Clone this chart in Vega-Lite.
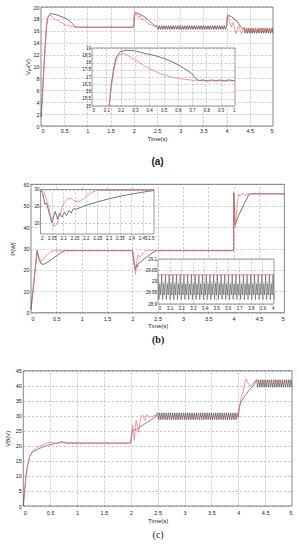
{
"$schema": "https://vega.github.io/schema/vega-lite/v6.json",
"width": 299, "height": 550, "autosize": {"type": "none"}, "padding": 0,
"config": {"view": {"stroke": null},
 "axis": {"labelFont": "Liberation Sans", "titleFont": "Liberation Sans", "labelFontSize": 5.5, "titleFontSize": 6, "titleFontWeight": "normal", "labelColor": "#222", "titleColor": "#222", "gridColor": "#8c8c8c", "gridDash": [2, 2], "gridWidth": 0.5, "domain": false, "ticks": false, "tickSize": 0, "labelPadding": 2}},
"resolve": {"scale": {"x": "independent", "y": "independent"}, "axis": {"x": "independent", "y": "independent"}},
"datasets": {
"frame_a": [{"x0": 0, "x1": 5, "y0": 0, "y1": 20}],
"frame_ai": [{"x0": 0, "x1": 1, "y0": 15, "y1": 19}],
"frame_b": [{"x0": 0, "x1": 5, "y0": 0, "y1": 60}],
"frame_b1": [{"x0": 2, "x1": 2.5, "y0": 16.8, "y1": 30}],
"frame_b2": [{"x0": 3, "x1": 4, "y0": 28.9, "y1": 29.1}],
"frame_c": [{"x0": 0, "x1": 5, "y0": 0, "y1": 45}],
"a_k": [{"t":0,"v":1.5},{"t":0.03,"v":5},{"t":0.06,"v":9.5},{"t":0.09,"v":13.5},{"t":0.12,"v":16.8},{"t":0.15,"v":18.3},{"t":0.2,"v":18.85},{"t":0.25,"v":18.85},{"t":0.35,"v":18.65},{"t":0.45,"v":18.35},{"t":0.55,"v":18},{"t":0.62,"v":17.6},{"t":0.68,"v":17.2},{"t":0.73,"v":16.7},{"t":0.8,"v":16.6},{"t":2,"v":16.6},{"t":2.01,"v":18.5},{"t":2.05,"v":19},{"t":2.1,"v":18.9},{"t":2.2,"v":18.5},{"t":2.3,"v":17.9},{"t":2.4,"v":17.2},{"t":2.47,"v":16.7},
{"t":2.5,"v":16.85},{"t":2.525,"v":16.25},{"t":2.55,"v":16.85},{"t":2.575,"v":16.25},{"t":2.6,"v":16.85},{"t":2.625,"v":16.25},{"t":2.65,"v":16.85},{"t":2.675,"v":16.25},{"t":2.7,"v":16.85},{"t":2.725,"v":16.25},{"t":2.75,"v":16.85},{"t":2.775,"v":16.25},{"t":2.8,"v":16.85},{"t":2.825,"v":16.25},{"t":2.85,"v":16.85},{"t":2.875,"v":16.25},{"t":2.9,"v":16.85},{"t":2.925,"v":16.25},{"t":2.95,"v":16.85},{"t":2.975,"v":16.25},{"t":3,"v":16.85},{"t":3.025,"v":16.25},{"t":3.05,"v":16.85},{"t":3.075,"v":16.25},{"t":3.1,"v":16.85},{"t":3.125,"v":16.25},{"t":3.15,"v":16.85},{"t":3.175,"v":16.25},{"t":3.2,"v":16.85},{"t":3.225,"v":16.25},{"t":3.25,"v":16.85},{"t":3.275,"v":16.25},{"t":3.3,"v":16.85},{"t":3.325,"v":16.25},{"t":3.35,"v":16.85},{"t":3.375,"v":16.25},{"t":3.4,"v":16.85},{"t":3.425,"v":16.25},{"t":3.45,"v":16.85},{"t":3.475,"v":16.25},{"t":3.5,"v":16.85},{"t":3.525,"v":16.25},{"t":3.55,"v":16.85},{"t":3.575,"v":16.25},{"t":3.6,"v":16.85},{"t":3.625,"v":16.25},{"t":3.65,"v":16.85},{"t":3.675,"v":16.25},{"t":3.7,"v":16.85},{"t":3.725,"v":16.25},{"t":3.75,"v":16.85},{"t":3.775,"v":16.25},{"t":3.8,"v":16.85},{"t":3.825,"v":16.25},{"t":3.85,"v":16.85},{"t":3.875,"v":16.25},{"t":3.9,"v":16.85},{"t":3.925,"v":16.25},{"t":3.95,"v":16.85},{"t":3.975,"v":16.25},{"t":4,"v":16.85},
{"t":4.02,"v":18.6},{"t":4.1,"v":18.4},{"t":4.2,"v":17.8},{"t":4.3,"v":16.8},{"t":4.35,"v":16.3},
{"t":4.375,"v":16.4},{"t":4.4,"v":15.6},{"t":4.425,"v":16.4},{"t":4.45,"v":15.6},{"t":4.475,"v":16.4},{"t":4.5,"v":15.6},{"t":4.525,"v":16.4},{"t":4.55,"v":15.6},{"t":4.575,"v":16.4},{"t":4.6,"v":15.6},{"t":4.625,"v":16.4},{"t":4.65,"v":15.6},{"t":4.675,"v":16.4},{"t":4.7,"v":15.6},{"t":4.725,"v":16.4},{"t":4.75,"v":15.6},{"t":4.775,"v":16.4},{"t":4.8,"v":15.6},{"t":4.825,"v":16.4},{"t":4.85,"v":15.6},{"t":4.875,"v":16.4},{"t":4.9,"v":15.6},{"t":4.925,"v":16.4},{"t":4.95,"v":15.6},{"t":4.975,"v":16.4},{"t":5,"v":15.6}],
"a_r": [{"t":0,"v":1.5},{"t":0.03,"v":5},{"t":0.06,"v":9.5},{"t":0.09,"v":13.5},{"t":0.12,"v":17},{"t":0.15,"v":18.4},{"t":0.18,"v":18.7},{"t":0.22,"v":18.5},{"t":0.3,"v":18},{"t":0.4,"v":17.5},{"t":0.5,"v":17.1},{"t":0.6,"v":16.85},{"t":0.7,"v":16.65},{"t":0.75,"v":16.6},{"t":2,"v":16.6},{"t":2.015,"v":19.3},{"t":2.05,"v":19},{"t":2.1,"v":18.2},{"t":2.13,"v":18.6},{"t":2.17,"v":17.8},{"t":2.22,"v":18},{"t":2.3,"v":17.2},{"t":2.4,"v":16.9},{"t":2.5,"v":16.65},
{"t":2.55,"v":16.45},{"t":2.6,"v":16.75},{"t":2.65,"v":16.45},{"t":2.7,"v":16.75},{"t":2.75,"v":16.45},{"t":2.8,"v":16.75},{"t":2.85,"v":16.45},{"t":2.9,"v":16.75},{"t":2.95,"v":16.45},{"t":3,"v":16.75},{"t":3.05,"v":16.45},{"t":3.1,"v":16.75},{"t":3.15,"v":16.45},{"t":3.2,"v":16.75},{"t":3.25,"v":16.45},{"t":3.3,"v":16.75},{"t":3.35,"v":16.45},{"t":3.4,"v":16.75},{"t":3.45,"v":16.45},{"t":3.5,"v":16.75},{"t":3.55,"v":16.45},{"t":3.6,"v":16.75},{"t":3.65,"v":16.45},{"t":3.7,"v":16.75},{"t":3.75,"v":16.45},{"t":3.8,"v":16.75},{"t":3.85,"v":16.45},{"t":3.9,"v":16.75},{"t":3.95,"v":16.45},{"t":4,"v":16.75},
{"t":4.02,"v":18.7},{"t":4.06,"v":17.8},{"t":4.1,"v":16.6},{"t":4.14,"v":17.4},{"t":4.2,"v":15.5},{"t":4.26,"v":16.9},{"t":4.32,"v":15.5},{"t":4.38,"v":16.6},
{"t":4.41,"v":15.8},{"t":4.44,"v":16.5},{"t":4.47,"v":15.8},{"t":4.5,"v":16.5},{"t":4.53,"v":15.8},{"t":4.56,"v":16.5},{"t":4.59,"v":15.8},{"t":4.62,"v":16.5},{"t":4.65,"v":15.8},{"t":4.68,"v":16.5},{"t":4.71,"v":15.8},{"t":4.74,"v":16.5},{"t":4.77,"v":15.8},{"t":4.8,"v":16.5},{"t":4.83,"v":15.8},{"t":4.86,"v":16.5},{"t":4.89,"v":15.8},{"t":4.92,"v":16.5},{"t":4.95,"v":15.8},{"t":4.98,"v":16.5},{"t":5,"v":16.1}],
"ai_k": [{"t":0.12,"v":15},{"t":0.135,"v":16.5},{"t":0.15,"v":17.5},{"t":0.17,"v":18.4},{"t":0.2,"v":18.75},{"t":0.24,"v":18.85},{"t":0.3,"v":18.8},{"t":0.38,"v":18.6},{"t":0.45,"v":18.45},{"t":0.51,"v":18.25},{"t":0.56,"v":18.05},{"t":0.61,"v":17.8},{"t":0.66,"v":17.5},{"t":0.7,"v":17.2},{"t":0.73,"v":16.85},{"t":0.75,"v":16.75},{"t":0.78,"v":16.79},{"t":0.81,"v":16.72},{"t":0.84,"v":16.79},{"t":0.87,"v":16.72},{"t":0.9,"v":16.79},{"t":0.93,"v":16.72},{"t":0.96,"v":16.79},{"t":1,"v":16.74}],
"ai_r": [{"t":0.12,"v":15},{"t":0.135,"v":16.3},{"t":0.15,"v":17.3},{"t":0.17,"v":18.2},{"t":0.19,"v":18.5},{"t":0.215,"v":18.6},{"t":0.24,"v":18.55},{"t":0.28,"v":18.3},{"t":0.33,"v":18},{"t":0.38,"v":17.7},{"t":0.43,"v":17.45},{"t":0.47,"v":17.25},{"t":0.52,"v":17.1},{"t":0.56,"v":16.98},{"t":0.6,"v":16.9},{"t":0.65,"v":16.84},{"t":0.7,"v":16.78},{"t":0.75,"v":16.76},{"t":0.765,"v":16.8},{"t":0.795,"v":16.72},{"t":0.825,"v":16.8},{"t":0.855,"v":16.72},{"t":0.885,"v":16.8},{"t":0.915,"v":16.72},{"t":0.945,"v":16.8},{"t":0.975,"v":16.72},{"t":1,"v":16.77}],
"b_k": [{"t":0,"v":1.5},{"t":0.06,"v":15},{"t":0.12,"v":29},{"t":0.15,"v":25.5},{"t":0.2,"v":22.8},{"t":0.25,"v":22.6},{"t":0.3,"v":23.2},{"t":0.4,"v":24.8},{"t":0.5,"v":26.5},{"t":0.6,"v":28.2},{"t":0.68,"v":29},{"t":2,"v":29},{"t":2.02,"v":26},{"t":2.04,"v":22},{"t":2.06,"v":20},{"t":2.08,"v":22.5},{"t":2.1,"v":21.5},{"t":2.12,"v":23},{"t":2.15,"v":23.5},{"t":2.2,"v":24.5},{"t":2.3,"v":26.3},{"t":2.4,"v":28},{"t":2.47,"v":29},{"t":4,"v":29},{"t":4.001,"v":56},{"t":4.03,"v":41},{"t":4.1,"v":45.5},{"t":4.2,"v":50.5},{"t":4.3,"v":55.3},{"t":4.35,"v":55.6},{"t":5,"v":55.5}],
"b_r": [{"t":0,"v":1.5},{"t":0.06,"v":15},{"t":0.12,"v":29},{"t":0.16,"v":26},{"t":0.2,"v":24},{"t":0.25,"v":25},{"t":0.3,"v":26.8},{"t":0.38,"v":28.3},{"t":0.45,"v":29},{"t":2,"v":29},{"t":2.02,"v":28},{"t":2.04,"v":23.5},{"t":2.06,"v":18},{"t":2.08,"v":21.5},{"t":2.1,"v":25.5},{"t":2.12,"v":27},{"t":2.15,"v":26},{"t":2.18,"v":26.5},{"t":2.22,"v":28},{"t":2.26,"v":29},{"t":4,"v":29},{"t":4.001,"v":55},{"t":4.03,"v":40},{"t":4.07,"v":50},{"t":4.1,"v":55.5},{"t":4.13,"v":54.5},{"t":4.17,"v":55.8},{"t":4.22,"v":55},{"t":4.3,"v":55.5},{"t":5,"v":55.5}],
"b1_k": [{"t":2,"v":29.7},{"t":2.01,"v":28.8},{"t":2.015,"v":27},{"t":2.02,"v":25.6},{"t":2.025,"v":26},{"t":2.03,"v":25.2},{"t":2.04,"v":22.5},{"t":2.05,"v":20.2},{"t":2.06,"v":22.5},{"t":2.065,"v":23.5},{"t":2.075,"v":21.2},{"t":2.085,"v":23},{"t":2.095,"v":21.8},{"t":2.105,"v":23.3},{"t":2.115,"v":22.3},{"t":2.125,"v":23.8},{"t":2.135,"v":23},{"t":2.145,"v":24.3},{"t":2.16,"v":24.2},{"t":2.18,"v":24.8},{"t":2.2,"v":25.3},{"t":2.25,"v":26.3},{"t":2.3,"v":27.2},{"t":2.35,"v":28},{"t":2.4,"v":28.6},{"t":2.45,"v":29.2},{"t":2.5,"v":29.7}],
"b1_r": [{"t":2,"v":29.8},{"t":2.015,"v":29.4},{"t":2.025,"v":27.5},{"t":2.035,"v":25},{"t":2.045,"v":22},{"t":2.06,"v":19},{"t":2.07,"v":19.5},{"t":2.085,"v":22.5},{"t":2.1,"v":25.5},{"t":2.115,"v":27},{"t":2.13,"v":27.5},{"t":2.145,"v":26.8},{"t":2.16,"v":26.4},{"t":2.175,"v":26.6},{"t":2.19,"v":27.3},{"t":2.21,"v":28.4},{"t":2.23,"v":29.3},{"t":2.25,"v":29.7},{"t":2.5,"v":29.7}],
"b2_r": [{"t":3,"v":29.03},{"t":4,"v":29.03}],
"b2_k": [{"t":3,"v":29.03},{"t":3.008,"v":28.92},{"t":3.016,"v":28.99},{"t":3.024,"v":28.94},{"t":3.032,"v":29.03},{"t":3.04,"v":28.92},{"t":3.048,"v":28.99},{"t":3.056,"v":28.94},{"t":3.064,"v":29.03},{"t":3.072,"v":28.92},{"t":3.08,"v":28.99},{"t":3.088,"v":28.94},{"t":3.096,"v":29.03},{"t":3.104,"v":28.92},{"t":3.112,"v":28.99},{"t":3.12,"v":28.94},{"t":3.128,"v":29.03},{"t":3.136,"v":28.92},{"t":3.144,"v":28.99},{"t":3.152,"v":28.94},{"t":3.16,"v":29.03},{"t":3.168,"v":28.92},{"t":3.176,"v":28.99},{"t":3.184,"v":28.94},{"t":3.192,"v":29.03},{"t":3.2,"v":28.92},{"t":3.208,"v":28.99},{"t":3.216,"v":28.94},{"t":3.224,"v":29.03},{"t":3.232,"v":28.92},{"t":3.24,"v":28.99},{"t":3.248,"v":28.94},{"t":3.256,"v":29.03},{"t":3.264,"v":28.92},{"t":3.272,"v":28.99},{"t":3.28,"v":28.94},{"t":3.288,"v":29.03},{"t":3.296,"v":28.92},{"t":3.304,"v":28.99},{"t":3.312,"v":28.94},{"t":3.32,"v":29.03},{"t":3.328,"v":28.92},{"t":3.336,"v":28.99},{"t":3.344,"v":28.94},{"t":3.352,"v":29.03},{"t":3.36,"v":28.92},{"t":3.368,"v":28.99},{"t":3.376,"v":28.94},{"t":3.384,"v":29.03},{"t":3.392,"v":28.92},{"t":3.4,"v":28.99},{"t":3.408,"v":28.94},{"t":3.416,"v":29.03},{"t":3.424,"v":28.92},{"t":3.432,"v":28.99},{"t":3.44,"v":28.94},{"t":3.448,"v":29.03},{"t":3.456,"v":28.92},{"t":3.464,"v":28.99},{"t":3.472,"v":28.94},{"t":3.48,"v":29.03},{"t":3.488,"v":28.92},{"t":3.496,"v":28.99},{"t":3.504,"v":28.94},{"t":3.512,"v":29.03},{"t":3.52,"v":28.92},{"t":3.528,"v":28.99},{"t":3.536,"v":28.94},{"t":3.544,"v":29.03},{"t":3.552,"v":28.92},{"t":3.56,"v":28.99},{"t":3.568,"v":28.94},{"t":3.576,"v":29.03},{"t":3.584,"v":28.92},{"t":3.592,"v":28.99},{"t":3.6,"v":28.94},{"t":3.608,"v":29.03},{"t":3.616,"v":28.92},{"t":3.624,"v":28.99},{"t":3.632,"v":28.94},{"t":3.64,"v":29.03},{"t":3.648,"v":28.92},{"t":3.656,"v":28.99},{"t":3.664,"v":28.94},{"t":3.672,"v":29.03},{"t":3.68,"v":28.92},{"t":3.688,"v":28.99},{"t":3.696,"v":28.94},{"t":3.704,"v":29.03},{"t":3.712,"v":28.92},{"t":3.72,"v":28.99},{"t":3.728,"v":28.94},{"t":3.736,"v":29.03},{"t":3.744,"v":28.92},{"t":3.752,"v":28.99},{"t":3.76,"v":28.94},{"t":3.768,"v":29.03},{"t":3.776,"v":28.92},{"t":3.784,"v":28.99},{"t":3.792,"v":28.94},{"t":3.8,"v":29.03},{"t":3.808,"v":28.92},{"t":3.816,"v":28.99},{"t":3.824,"v":28.94},{"t":3.832,"v":29.03},{"t":3.84,"v":28.92},{"t":3.848,"v":28.99},{"t":3.856,"v":28.94},{"t":3.864,"v":29.03},{"t":3.872,"v":28.92},{"t":3.88,"v":28.99},{"t":3.888,"v":28.94},{"t":3.896,"v":29.03},{"t":3.904,"v":28.92},{"t":3.912,"v":28.99},{"t":3.92,"v":28.94},{"t":3.928,"v":29.03},{"t":3.936,"v":28.92},{"t":3.944,"v":28.99},{"t":3.952,"v":28.94},{"t":3.96,"v":29.03},{"t":3.968,"v":28.92},{"t":3.976,"v":28.99},{"t":3.984,"v":28.94},{"t":3.992,"v":29.03},{"t":4,"v":28.92}],
"c_k": [{"t":0,"v":0},{"t":0.03,"v":6},{"t":0.05,"v":10},{"t":0.08,"v":13.5},{"t":0.12,"v":16.5},{"t":0.17,"v":18},{"t":0.25,"v":18.7},{"t":0.35,"v":19.5},{"t":0.45,"v":20.2},{"t":0.55,"v":20.6},{"t":0.65,"v":21},{"t":0.72,"v":21.5},{"t":0.76,"v":21},
{"t":0.8,"v":21.1},{"t":0.825,"v":20.6},{"t":0.85,"v":21.1},{"t":0.875,"v":20.6},{"t":0.9,"v":21.1},{"t":0.925,"v":20.6},{"t":0.95,"v":21.1},{"t":0.975,"v":20.6},{"t":1,"v":21.1},{"t":1.025,"v":20.6},{"t":1.05,"v":21.1},{"t":1.075,"v":20.6},{"t":1.1,"v":21.1},{"t":1.125,"v":20.6},{"t":1.15,"v":21.1},{"t":1.175,"v":20.6},{"t":1.2,"v":21.1},{"t":1.225,"v":20.6},{"t":1.25,"v":21.1},{"t":1.275,"v":20.6},{"t":1.3,"v":21.1},{"t":1.325,"v":20.6},{"t":1.35,"v":21.1},{"t":1.375,"v":20.6},{"t":1.4,"v":21.1},{"t":1.425,"v":20.6},{"t":1.45,"v":21.1},{"t":1.475,"v":20.6},{"t":1.5,"v":21.1},{"t":1.525,"v":20.6},{"t":1.55,"v":21.1},{"t":1.575,"v":20.6},{"t":1.6,"v":21.1},{"t":1.625,"v":20.6},{"t":1.65,"v":21.1},{"t":1.675,"v":20.6},{"t":1.7,"v":21.1},{"t":1.725,"v":20.6},{"t":1.75,"v":21.1},{"t":1.775,"v":20.6},{"t":1.8,"v":21.1},{"t":1.825,"v":20.6},{"t":1.85,"v":21.1},{"t":1.875,"v":20.6},{"t":1.9,"v":21.1},{"t":1.925,"v":20.6},{"t":1.95,"v":21.1},{"t":1.975,"v":20.6},{"t":2,"v":21.1},
{"t":2.01,"v":23.5},{"t":2.03,"v":25},{"t":2.06,"v":25.5},{"t":2.1,"v":25.2},{"t":2.15,"v":26},{"t":2.3,"v":27.8},{"t":2.45,"v":29.5},
{"t":2.5,"v":31},{"t":2.52,"v":28.7},{"t":2.54,"v":31},{"t":2.56,"v":28.7},{"t":2.58,"v":31},{"t":2.6,"v":28.7},{"t":2.62,"v":31},{"t":2.64,"v":28.7},{"t":2.66,"v":31},{"t":2.68,"v":28.7},{"t":2.7,"v":31},{"t":2.72,"v":28.7},{"t":2.74,"v":31},{"t":2.76,"v":28.7},{"t":2.78,"v":31},{"t":2.8,"v":28.7},{"t":2.82,"v":31},{"t":2.84,"v":28.7},{"t":2.86,"v":31},{"t":2.88,"v":28.7},{"t":2.9,"v":31},{"t":2.92,"v":28.7},{"t":2.94,"v":31},{"t":2.96,"v":28.7},{"t":2.98,"v":31},{"t":3,"v":28.7},{"t":3.02,"v":31},{"t":3.04,"v":28.7},{"t":3.06,"v":31},{"t":3.08,"v":28.7},{"t":3.1,"v":31},{"t":3.12,"v":28.7},{"t":3.14,"v":31},{"t":3.16,"v":28.7},{"t":3.18,"v":31},{"t":3.2,"v":28.7},{"t":3.22,"v":31},{"t":3.24,"v":28.7},{"t":3.26,"v":31},{"t":3.28,"v":28.7},{"t":3.3,"v":31},{"t":3.32,"v":28.7},{"t":3.34,"v":31},{"t":3.36,"v":28.7},{"t":3.38,"v":31},{"t":3.4,"v":28.7},{"t":3.42,"v":31},{"t":3.44,"v":28.7},{"t":3.46,"v":31},{"t":3.48,"v":28.7},{"t":3.5,"v":31},{"t":3.52,"v":28.7},{"t":3.54,"v":31},{"t":3.56,"v":28.7},{"t":3.58,"v":31},{"t":3.6,"v":28.7},{"t":3.62,"v":31},{"t":3.64,"v":28.7},{"t":3.66,"v":31},{"t":3.68,"v":28.7},{"t":3.7,"v":31},{"t":3.72,"v":28.7},{"t":3.74,"v":31},{"t":3.76,"v":28.7},{"t":3.78,"v":31},{"t":3.8,"v":28.7},{"t":3.82,"v":31},{"t":3.84,"v":28.7},{"t":3.86,"v":31},{"t":3.88,"v":28.7},{"t":3.9,"v":31},{"t":3.92,"v":28.7},{"t":3.94,"v":31},{"t":3.96,"v":28.7},{"t":3.98,"v":31},{"t":4,"v":29.5},
{"t":4.02,"v":33},{"t":4.05,"v":34.5},{"t":4.1,"v":36},{"t":4.2,"v":38.5},{"t":4.3,"v":40.5},
{"t":4.34,"v":42},{"t":4.36,"v":39.5},{"t":4.38,"v":42},{"t":4.4,"v":39.5},{"t":4.42,"v":42},{"t":4.44,"v":39.5},{"t":4.46,"v":42},{"t":4.48,"v":39.5},{"t":4.5,"v":42},{"t":4.52,"v":39.5},{"t":4.54,"v":42},{"t":4.56,"v":39.5},{"t":4.58,"v":42},{"t":4.6,"v":39.5},{"t":4.62,"v":42},{"t":4.64,"v":39.5},{"t":4.66,"v":42},{"t":4.68,"v":39.5},{"t":4.7,"v":42},{"t":4.72,"v":39.5},{"t":4.74,"v":42},{"t":4.76,"v":39.5},{"t":4.78,"v":42},{"t":4.8,"v":39.5},{"t":4.82,"v":42},{"t":4.84,"v":39.5},{"t":4.86,"v":42},{"t":4.88,"v":39.5},{"t":4.9,"v":42},{"t":4.92,"v":39.5},{"t":4.94,"v":42},{"t":4.96,"v":39.5},{"t":4.98,"v":42},{"t":5,"v":39.5}],
"c_r": [{"t":0,"v":0},{"t":0.03,"v":6},{"t":0.05,"v":10},{"t":0.08,"v":13.5},{"t":0.12,"v":16.5},{"t":0.17,"v":18.2},{"t":0.25,"v":19.3},{"t":0.35,"v":20.3},{"t":0.45,"v":21},{"t":0.52,"v":21.2},{"t":0.6,"v":20.9},{"t":0.7,"v":21},{"t":2,"v":21},{"t":2.02,"v":24},{"t":2.035,"v":26.8},{"t":2.05,"v":24},{"t":2.065,"v":22},{"t":2.08,"v":25},{"t":2.1,"v":28.5},{"t":2.13,"v":26},{"t":2.15,"v":24.5},{"t":2.18,"v":29},{"t":2.22,"v":30.3},{"t":2.26,"v":28.5},{"t":2.3,"v":30.3},{"t":2.35,"v":29.5},{"t":2.4,"v":29.8},{"t":2.45,"v":30.2},{"t":2.5,"v":30},
{"t":2.55,"v":29.6},{"t":2.6,"v":30.1},{"t":2.65,"v":29.6},{"t":2.7,"v":30.1},{"t":2.75,"v":29.6},{"t":2.8,"v":30.1},{"t":2.85,"v":29.6},{"t":2.9,"v":30.1},{"t":2.95,"v":29.6},{"t":3,"v":30.1},{"t":3.05,"v":29.6},{"t":3.1,"v":30.1},{"t":3.15,"v":29.6},{"t":3.2,"v":30.1},{"t":3.25,"v":29.6},{"t":3.3,"v":30.1},{"t":3.35,"v":29.6},{"t":3.4,"v":30.1},{"t":3.45,"v":29.6},{"t":3.5,"v":30.1},{"t":3.55,"v":29.6},{"t":3.6,"v":30.1},{"t":3.65,"v":29.6},{"t":3.7,"v":30.1},{"t":3.75,"v":29.6},{"t":3.8,"v":30.1},{"t":3.85,"v":29.6},{"t":3.9,"v":30.1},{"t":3.95,"v":29.6},{"t":4,"v":30},
{"t":4.03,"v":34},{"t":4.07,"v":37},{"t":4.1,"v":39},{"t":4.13,"v":41.5},{"t":4.15,"v":42.3},{"t":4.18,"v":41},{"t":4.22,"v":39.8},{"t":4.27,"v":40.5},{"t":4.32,"v":41.8},{"t":4.37,"v":41.8},{"t":4.42,"v":40.5},
{"t":4.47,"v":41.8},{"t":4.52,"v":40.4},{"t":4.57,"v":41.8},{"t":4.62,"v":40.4},{"t":4.67,"v":41.8},{"t":4.72,"v":40.4},{"t":4.77,"v":41.8},{"t":4.82,"v":40.4},{"t":4.87,"v":41.8},{"t":4.92,"v":40.4},{"t":4.97,"v":41.8},{"t":5,"v":41}]
},
"layer": [
{"data": {"name": "a_k"}, "mark": {"type": "line", "color": "#3a3a3a", "strokeWidth": 0.7},
 "encoding": {
  "x": {"field": "t", "type": "quantitative", "scale": {"domain": [0, 5], "range": [41, 273], "nice": false, "zero": false},
        "axis": {"orient": "bottom", "offset": -424, "values": [0,0.5,1,1.5,2,2.5,3,3.5,4,4.5,5], "labelExpr": "datum.value + ''", "grid": false, "title": "Time(s)", "titlePadding": 1.5, "labelPadding": 2.3}},
  "y": {"field": "v", "type": "quantitative", "scale": {"domain": [0, 20], "range": [126, 7], "nice": false, "zero": false},
        "axis": {"orient": "left", "offset": -41, "values": [0,2,4,6,8,10,12,14,16,18,20], "labelExpr": "datum.value + ''", "grid": true, "title": "Vₚᵥ(V)", "titlePadding": 2}}}},
{"data": {"name": "a_r"}, "mark": {"type": "line", "color": "#f07070", "strokeWidth": 0.7},
 "encoding": {
  "x": {"field": "t", "type": "quantitative", "scale": {"domain": [0, 5], "range": [41, 273], "nice": false, "zero": false},
        "axis": {"orient": "top", "offset": 0, "values": [0.5,1,1.5,2,2.5,3,3.5,4,4.5], "grid": true, "labels": false, "title": null}},
  "y": {"field": "v", "type": "quantitative", "scale": {"domain": [0, 20], "range": [126, 7], "nice": false, "zero": false}, "axis": null}}},
{"data": {"name": "frame_a"}, "mark": {"type": "rect", "fill": "transparent", "stroke": "#333", "strokeWidth": 0.6},
 "encoding": {
  "x": {"field": "x0", "type": "quantitative", "scale": {"domain": [0, 5], "range": [41, 273], "nice": false, "zero": false},
        "axis": {"orient": "bottom", "offset": -424, "labels": false, "grid": false, "title": "(a)", "titleFontSize": 10, "titleFontWeight": "bold", "titlePadding": 30}},
  "x2": {"field": "x1"},
  "y": {"field": "y0", "type": "quantitative", "scale": {"domain": [0, 20], "range": [126, 7], "nice": false, "zero": false}, "axis": null},
  "y2": {"field": "y1"}}},
{"data": {"name": "frame_ai"}, "mark": {"type": "rect", "fill": "white", "stroke": "#333", "strokeWidth": 0.5},
 "encoding": {
  "x": {"field": "x0", "type": "quantitative", "scale": {"domain": [0, 1], "range": [92, 235], "nice": false, "zero": false},
        "axis": {"orient": "top", "offset": 0, "values": [0.1,0.2,0.3,0.4,0.5,0.6,0.7,0.8,0.9], "grid": true, "labels": false, "title": null, "zindex": 1}},
  "x2": {"field": "x1"},
  "y": {"field": "y0", "type": "quantitative", "scale": {"domain": [15, 19], "range": [106, 48], "nice": false, "zero": false},
        "axis": {"orient": "left", "offset": -92, "values": [15,15.5,16,16.5,17,17.5,18,18.5,19], "labelExpr": "datum.value + ''", "grid": true, "labelFontSize": 4.5, "labelPadding": 1.5, "title": null, "zindex": 1}},
  "y2": {"field": "y1"}}},
{"data": {"name": "ai_k"}, "mark": {"type": "line", "color": "#3a3a3a", "strokeWidth": 0.7},
 "encoding": {
  "x": {"field": "t", "type": "quantitative", "scale": {"domain": [0, 1], "range": [92, 235], "nice": false, "zero": false},
        "axis": {"orient": "bottom", "offset": -444, "values": [0,0.1,0.2,0.3,0.4,0.5,0.6,0.7,0.8,0.9,1], "labelExpr": "datum.value + ''", "grid": false, "labelFontSize": 4.5, "labelPadding": 1.5, "title": null, "zindex": 1}},
  "y": {"field": "v", "type": "quantitative", "scale": {"domain": [15, 19], "range": [106, 48], "nice": false, "zero": false}, "axis": null}}},
{"data": {"name": "ai_r"}, "mark": {"type": "line", "color": "#f07070", "strokeWidth": 0.7},
 "encoding": {
  "x": {"field": "t", "type": "quantitative", "scale": {"domain": [0, 1], "range": [92, 235], "nice": false, "zero": false}, "axis": null},
  "y": {"field": "v", "type": "quantitative", "scale": {"domain": [15, 19], "range": [106, 48], "nice": false, "zero": false}, "axis": null}}},

{"data": {"name": "b_k"}, "mark": {"type": "line", "color": "#3a3a3a", "strokeWidth": 0.7},
 "encoding": {
  "x": {"field": "t", "type": "quantitative", "scale": {"domain": [0, 5], "range": [31, 284.3], "nice": false, "zero": false},
        "axis": {"orient": "bottom", "offset": -237.3, "values": [0,0.5,1,1.5,2,2.5,3,3.5,4,4.5,5], "labelExpr": "datum.value + ''", "grid": false, "title": "Time(s)", "titlePadding": 0.5, "labelPadding": 3.8}},
  "y": {"field": "v", "type": "quantitative", "scale": {"domain": [0, 60], "range": [312.7, 184.3], "nice": false, "zero": false},
        "axis": {"orient": "left", "offset": -31, "values": [0,10,20,30,40,50,60], "labelExpr": "datum.value + ''", "grid": true, "title": "P(W)", "titlePadding": 7}}}},
{"data": {"name": "b_r"}, "mark": {"type": "line", "color": "#f07070", "strokeWidth": 0.7},
 "encoding": {
  "x": {"field": "t", "type": "quantitative", "scale": {"domain": [0, 5], "range": [31, 284.3], "nice": false, "zero": false},
        "axis": {"orient": "top", "offset": 0, "values": [0.5,1,1.5,2,2.5,3,3.5,4,4.5], "grid": true, "labels": false, "title": null}},
  "y": {"field": "v", "type": "quantitative", "scale": {"domain": [0, 60], "range": [312.7, 184.3], "nice": false, "zero": false}, "axis": null}}},
{"data": {"name": "frame_b"}, "mark": {"type": "rect", "fill": "transparent", "stroke": "#333", "strokeWidth": 0.6},
 "encoding": {
  "x": {"field": "x0", "type": "quantitative", "scale": {"domain": [0, 5], "range": [31, 284.3], "nice": false, "zero": false},
        "axis": {"orient": "bottom", "offset": -237.3, "labels": false, "grid": false, "title": "(b)", "titleFont": "Liberation Serif", "titleFontSize": 10, "titleFontWeight": "bold", "titlePadding": 21.5}},
  "x2": {"field": "x1"},
  "y": {"field": "y0", "type": "quantitative", "scale": {"domain": [0, 60], "range": [312.7, 184.3], "nice": false, "zero": false}, "axis": null},
  "y2": {"field": "y1"}}},
{"data": {"name": "frame_b1"}, "mark": {"type": "rect", "fill": "white", "stroke": "#333", "strokeWidth": 0.5},
 "encoding": {
  "x": {"field": "x0", "type": "quantitative", "scale": {"domain": [2, 2.5], "range": [40.5, 154], "nice": false, "zero": false},
        "axis": {"orient": "top", "offset": 0, "values": [2.05,2.1,2.15,2.2,2.25,2.3,2.35,2.4,2.45], "grid": true, "labels": false, "title": null, "zindex": 1}},
  "x2": {"field": "x1"},
  "y": {"field": "y0", "type": "quantitative", "scale": {"domain": [16.8, 30], "range": [234, 189.5], "nice": false, "zero": false},
        "axis": {"orient": "left", "offset": -40.5, "values": [20,25,30], "labelExpr": "datum.value + ''", "grid": true, "labelFontSize": 4.5, "labelPadding": 1.5, "title": null, "zindex": 1}},
  "y2": {"field": "y1"}}},
{"data": {"name": "b1_k"}, "mark": {"type": "line", "color": "#3a3a3a", "strokeWidth": 0.7},
 "encoding": {
  "x": {"field": "t", "type": "quantitative", "scale": {"domain": [2, 2.5], "range": [40.5, 154], "nice": false, "zero": false},
        "axis": {"orient": "bottom", "offset": -316, "values": [2,2.05,2.1,2.15,2.2,2.25,2.3,2.35,2.4,2.45,2.5], "labelExpr": "datum.value + ''", "grid": false, "labelFontSize": 4.5, "labelPadding": 1.5, "title": null, "zindex": 1}},
  "y": {"field": "v", "type": "quantitative", "scale": {"domain": [16.8, 30], "range": [234, 189.5], "nice": false, "zero": false}, "axis": null}}},
{"data": {"name": "b1_r"}, "mark": {"type": "line", "color": "#f07070", "strokeWidth": 0.7},
 "encoding": {
  "x": {"field": "t", "type": "quantitative", "scale": {"domain": [2, 2.5], "range": [40.5, 154], "nice": false, "zero": false}, "axis": null},
  "y": {"field": "v", "type": "quantitative", "scale": {"domain": [16.8, 30], "range": [234, 189.5], "nice": false, "zero": false}, "axis": null}}},
{"data": {"name": "frame_b2"}, "mark": {"type": "rect", "fill": "white", "stroke": "#333", "strokeWidth": 0.5},
 "encoding": {
  "x": {"field": "x0", "type": "quantitative", "scale": {"domain": [3, 4], "range": [158, 274], "nice": false, "zero": false},
        "axis": {"orient": "top", "offset": 0, "values": [3.1,3.2,3.3,3.4,3.5,3.6,3.7,3.8,3.9], "grid": true, "labels": false, "title": null, "zindex": 1}},
  "x2": {"field": "x1"},
  "y": {"field": "y0", "type": "quantitative", "scale": {"domain": [28.9, 29.1], "range": [304, 259], "nice": false, "zero": false},
        "axis": {"orient": "left", "offset": -158, "values": [28.9,28.95,29,29.05,29.1], "labelExpr": "datum.value + ''", "grid": true, "labelFontSize": 4.5, "labelPadding": 1.5, "title": null, "zindex": 1}},
  "y2": {"field": "y1"}}},
{"data": {"name": "b2_k"}, "mark": {"type": "line", "color": "#3a3a3a", "strokeWidth": 0.5},
 "encoding": {
  "x": {"field": "t", "type": "quantitative", "scale": {"domain": [3, 4], "range": [158, 274], "nice": false, "zero": false},
        "axis": {"orient": "bottom", "offset": -246, "values": [3,3.1,3.2,3.3,3.4,3.5,3.6,3.7,3.8,3.9,4], "labelExpr": "datum.value + ''", "grid": false, "labelFontSize": 4.5, "labelPadding": 1.5, "title": null, "zindex": 1}},
  "y": {"field": "v", "type": "quantitative", "scale": {"domain": [28.9, 29.1], "range": [304, 259], "nice": false, "zero": false}, "axis": null}}},
{"data": {"name": "b2_r"}, "mark": {"type": "line", "color": "#f07070", "strokeWidth": 0.8},
 "encoding": {
  "x": {"field": "t", "type": "quantitative", "scale": {"domain": [3, 4], "range": [158, 274], "nice": false, "zero": false}, "axis": null},
  "y": {"field": "v", "type": "quantitative", "scale": {"domain": [28.9, 29.1], "range": [304, 259], "nice": false, "zero": false}, "axis": null}}},

{"data": {"name": "c_k"}, "mark": {"type": "line", "color": "#3a3a3a", "strokeWidth": 0.6},
 "encoding": {
  "x": {"field": "t", "type": "quantitative", "scale": {"domain": [0, 5], "range": [23.3, 292], "nice": false, "zero": false},
        "axis": {"orient": "bottom", "offset": -44, "values": [0,0.5,1,1.5,2,2.5,3,3.5,4,4.5,5], "labelExpr": "datum.value + ''", "grid": false, "title": "Time(s)", "titlePadding": 1.7, "labelPadding": 4.6}},
  "y": {"field": "v", "type": "quantitative", "scale": {"domain": [0, 45], "range": [506, 370.7], "nice": false, "zero": false},
        "axis": {"orient": "left", "offset": -23.3, "values": [0,5,10,15,20,25,30,35,40,45], "labelExpr": "datum.value + ''", "grid": true, "title": "VB(V)", "titlePadding": 5}}}},
{"data": {"name": "c_r"}, "mark": {"type": "line", "color": "#f07070", "strokeWidth": 0.7},
 "encoding": {
  "x": {"field": "t", "type": "quantitative", "scale": {"domain": [0, 5], "range": [23.3, 292], "nice": false, "zero": false},
        "axis": {"orient": "top", "offset": 0, "values": [0.5,1,1.5,2,2.5,3,3.5,4,4.5], "grid": true, "labels": false, "title": null}},
  "y": {"field": "v", "type": "quantitative", "scale": {"domain": [0, 45], "range": [506, 370.7], "nice": false, "zero": false}, "axis": null}}},
{"data": {"name": "frame_c"}, "mark": {"type": "rect", "fill": "transparent", "stroke": "#333", "strokeWidth": 0.6},
 "encoding": {
  "x": {"field": "x0", "type": "quantitative", "scale": {"domain": [0, 5], "range": [23.3, 292], "nice": false, "zero": false},
        "axis": {"orient": "bottom", "offset": -44, "labels": false, "grid": false, "title": "(c)", "titleFont": "Liberation Serif", "titleFontSize": 10, "titlePadding": 23}},
  "x2": {"field": "x1"},
  "y": {"field": "y0", "type": "quantitative", "scale": {"domain": [0, 45], "range": [506, 370.7], "nice": false, "zero": false}, "axis": null},
  "y2": {"field": "y1"}}}
]
}
